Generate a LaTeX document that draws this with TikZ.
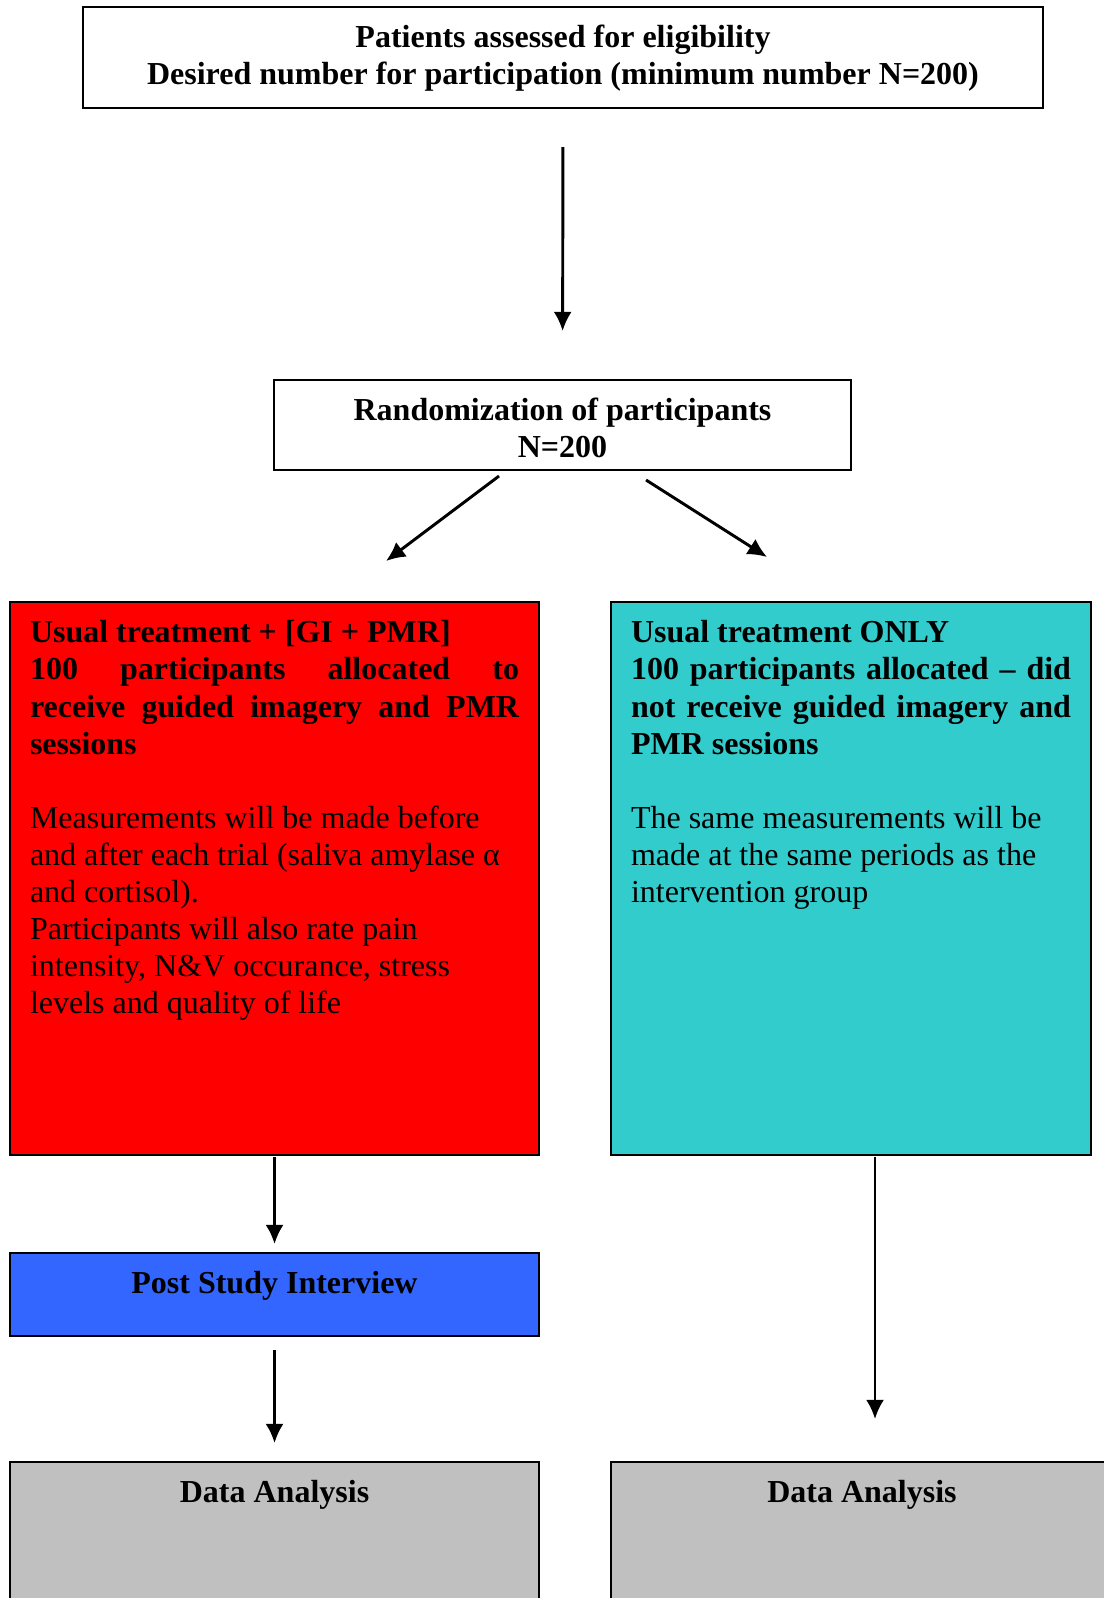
\documentclass[tikz,border=0pt]{standalone}
\usepackage{fontspec}
\setmainfont{Liberation Serif}
\usepackage{xcolor}
\usepackage{tikz}
\usetikzlibrary{arrows.meta,calc}

\definecolor{treatred}{HTML}{FF0000}
\definecolor{usualcyan}{HTML}{33CCCC}
\definecolor{interviewblue}{HTML}{3366FF}
\definecolor{analysisgray}{HTML}{C0C0C0}

% text block of a box: [alignment]{height}{width}{text}
\newcommand{\flowtext}[4][\raggedright]{\begin{minipage}[t][#2][t]{#3}#1\strut#4\end{minipage}}

\begin{document}
\begin{tikzpicture}[x=0.375pt,y=-0.375pt,
    flowbox/.style={draw, line width=0.75pt, anchor=north west, inner xsep=7.5pt, inner ysep=5.6pt,
        font=\fontsize{12pt}{13.9pt}\selectfont},
    flowarrow/.style={-{Latex[length=7.2pt,width=6.8pt]}, line width=1.1pt}]
    \useasboundingbox (0,0) rectangle (1104,1598);

    % Enrolment
    \node[flowbox] (elig) at (82,6) {\flowtext[\centering]{26.7pt}{345pt}{\bfseries Patients assessed for eligibility\\
        Desired number for participation (minimum number N=200)}};
    \node[flowbox] (rand) at (273,379) {\flowtext[\centering]{22.55pt}{201.4pt}{\bfseries Randomization of participants\\ N=200}};

    % Allocation
    \node[flowbox, fill=treatred] (usual) at (9,601) {\flowtext{196.2pt}{183.4pt}{\textbf{Usual treatment + [GI + PMR]}\\
        \makebox[\linewidth][s]{\bfseries 100 participants allocated to}\\
        \makebox[\linewidth][s]{\bfseries receive guided imagery and PMR}\\
        \textbf{sessions}\\[13.9pt]
        Measurements will be made before\\
        and after each trial (saliva amylase α\\
        and cortisol).\\
        Participants will also rate pain\\
        intensity, N\&V occurance, stress\\
        levels and quality of life}};
    \node[flowbox, fill=usualcyan] (control) at (610,601) {\flowtext{196.2pt}{165pt}{\textbf{Usual treatment ONLY}\\
        \makebox[\linewidth][s]{\bfseries 100 participants allocated -- did}\\
        \makebox[\linewidth][s]{\bfseries not receive guided imagery and}\\
        \textbf{PMR sessions}\\[13.9pt]
        The same measurements will be\\
        made at the same periods as the\\
        intervention group}};

    % Follow up and analysis
    \node[flowbox, fill=interviewblue] (interview) at (9,1252) {\flowtext[\centering]{19.9pt}{183.4pt}{\bfseries Post Study Interview}};
    \node[flowbox, fill=analysisgray] (analysisL) at (9,1461) {\flowtext[\centering]{101.3pt}{183.4pt}{\bfseries Data Analysis}};
    \node[flowbox, fill=analysisgray] (analysisR) at (610,1461) {\flowtext[\centering]{101.3pt}{173.25pt}{\bfseries Data Analysis}};

    % Arrows
    \draw[flowarrow, shorten <=14.25pt, shorten >=18pt] (elig.south) -- (rand.north);
    \draw[flowarrow] ($(rand.south)+(-63.5,5)$) -- ($(usual.north)+(111.5,-40)$);
    \draw[flowarrow] ($(rand.south)+(83.5,9)$) -- ($(control.north)+(-84,-44)$);
    \draw[flowarrow, shorten <=0.4pt, shorten >=3pt] (usual.south) -- (interview.north);
    \draw[flowarrow, shorten <=4.9pt, shorten >=6.75pt] (interview.south) -- (analysisL.north);
    \coordinate (ctrlout) at ($(control.south)+(24,1)$);
    \draw[flowarrow, shorten >=15.75pt] (ctrlout) -- (ctrlout |- analysisR.north);
\end{tikzpicture}
\end{document}
